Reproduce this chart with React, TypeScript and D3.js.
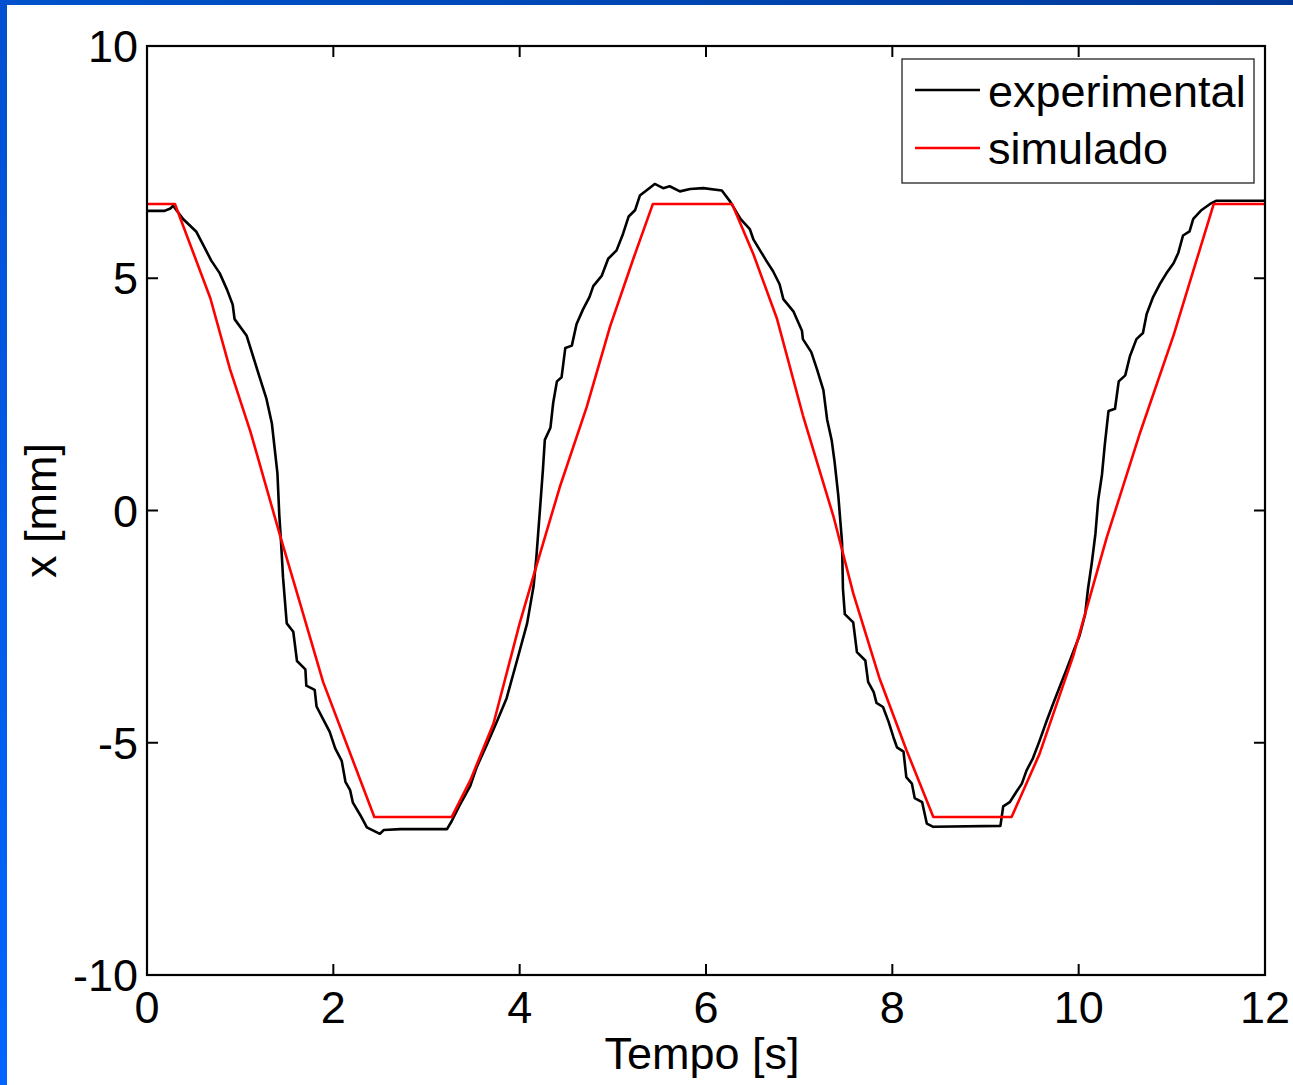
import React from "react";
import * as d3 from "d3";

const xTicks = [0, 2, 4, 6, 8, 10, 12];
const yTicks = [-10, -5, 0, 5, 10];
const yTickLabels = ["-10", "-5", "0", "5", "10"];
const xLabel = "Tempo [s]";
const yLabel = "x [mm]";
const seriesNames = ["experimental", "simulado"];
const seriesColors = ["#000000", "#ff0000"];

// experimental: [time (s), x (mm)]
const experimental: [number, number][] = [
  [0.0, 6.45], [0.19, 6.45], [0.25, 6.5], [0.28, 6.56], [0.39, 6.27], [0.53, 6.0], [0.6, 5.73],
  [0.69, 5.38], [0.78, 5.11], [0.86, 4.75], [0.92, 4.43], [0.94, 4.12], [1.07, 3.76], [1.14, 3.31],
  [1.21, 2.86], [1.28, 2.42], [1.34, 1.88], [1.37, 1.34], [1.4, 0.8], [1.42, -0.1], [1.44, -0.72],
  [1.46, -1.44], [1.5, -2.43], [1.57, -2.61], [1.61, -3.24], [1.7, -3.42], [1.71, -3.77], [1.8, -3.86],
  [1.82, -4.22], [1.89, -4.49], [1.96, -4.76], [2.02, -5.12], [2.09, -5.39], [2.13, -5.84], [2.18, -6.02],
  [2.21, -6.29], [2.29, -6.56], [2.36, -6.82], [2.5, -6.96], [2.54, -6.88], [2.72, -6.86], [3.07, -6.86],
  [3.22, -6.86], [3.27, -6.69], [3.36, -6.33], [3.47, -5.93], [3.54, -5.52], [3.65, -5.03], [3.75, -4.57],
  [3.86, -4.04], [3.97, -3.24], [4.08, -2.43], [4.15, -1.62], [4.18, -0.99], [4.22, 0.08], [4.25, 0.89],
  [4.27, 1.52], [4.33, 1.78], [4.36, 2.32], [4.4, 2.78], [4.45, 2.87], [4.49, 3.5], [4.56, 3.55],
  [4.61, 4.01], [4.68, 4.33], [4.75, 4.6], [4.79, 4.83], [4.88, 5.05], [4.95, 5.42], [5.04, 5.6],
  [5.11, 5.96], [5.17, 6.33], [5.24, 6.47], [5.29, 6.78], [5.36, 6.89], [5.45, 7.03], [5.54, 6.94],
  [5.61, 6.98], [5.72, 6.87], [5.83, 6.92], [5.97, 6.94], [6.17, 6.89], [6.26, 6.65], [6.37, 6.28],
  [6.47, 6.06], [6.51, 5.83], [6.58, 5.6], [6.65, 5.37], [6.72, 5.15], [6.79, 4.87], [6.83, 4.55],
  [6.94, 4.28], [7.03, 3.87], [7.04, 3.69], [7.13, 3.41], [7.19, 3.05], [7.26, 2.59], [7.3, 1.96],
  [7.35, 1.5], [7.38, 1.05], [7.42, 0.32], [7.46, -0.68], [7.47, -1.69], [7.49, -2.23], [7.58, -2.41],
  [7.62, -3.05], [7.71, -3.23], [7.74, -3.69], [7.8, -3.91], [7.83, -4.14], [7.9, -4.23], [7.96, -4.55],
  [8.01, -4.87], [8.05, -5.1], [8.12, -5.19], [8.15, -5.74], [8.21, -5.88], [8.24, -6.19], [8.32, -6.28],
  [8.37, -6.74], [8.44, -6.81], [9.16, -6.79], [9.19, -6.37], [9.26, -6.28], [9.33, -6.06], [9.39, -5.88],
  [9.44, -5.6], [9.51, -5.33], [9.58, -4.96], [9.66, -4.51], [9.73, -4.14], [9.8, -3.78], [9.87, -3.42],
  [9.94, -3.05], [10.01, -2.69], [10.07, -2.23], [10.1, -1.69], [10.14, -1.14], [10.18, -0.5], [10.21, 0.23],
  [10.25, 0.77], [10.28, 1.41], [10.32, 2.14], [10.39, 2.19], [10.43, 2.78], [10.5, 2.91], [10.55, 3.32],
  [10.62, 3.69], [10.69, 3.82], [10.73, 4.23], [10.8, 4.6], [10.87, 4.87], [10.94, 5.1], [11.02, 5.33],
  [11.07, 5.55], [11.12, 5.92], [11.19, 6.01], [11.23, 6.28], [11.32, 6.47], [11.41, 6.6], [11.48, 6.67],
  [12.0, 6.67],
];

// simulado: [time (s), x (mm)]
const simulado: [number, number][] = [
  [0.0, 6.6], [0.3, 6.6], [0.68, 4.57], [0.89, 3.05], [1.11, 1.7], [1.43, -0.55], [1.64, -1.98],
  [1.89, -3.69], [2.44, -6.6], [3.27, -6.6], [3.47, -5.81], [3.72, -4.58], [4.0, -2.43], [4.18, -1.19],
  [4.43, 0.5], [4.72, 2.23], [4.97, 3.96], [5.22, 5.42], [5.43, 6.6], [6.28, 6.6], [6.51, 5.51],
  [6.76, 4.14], [7.04, 2.05], [7.37, -0.14], [7.58, -1.78], [7.86, -3.6], [8.15, -5.15], [8.44, -6.6],
  [9.28, -6.6], [9.58, -5.24], [9.94, -3.14], [10.3, -0.59], [10.66, 1.68], [11.02, 3.78], [11.27, 5.42],
  [11.45, 6.6], [12.0, 6.6],
];

const W = 1293;
const H = 1085;
const L = 147, R = 1265, T = 46, B = 975;
const FONT = "'Liberation Sans', Arial, Helvetica, sans-serif";
const FS = 45;
const TICK = 11;

export default function App() {
  const x = d3.scaleLinear().domain([0, 12]).range([L, R]);
  const y = d3.scaleLinear().domain([-10, 10]).range([B, T]);
  const line = d3
    .line<[number, number]>()
    .x((d) => x(d[0]))
    .y((d) => y(d[1]))
    .curve(d3.curveLinear);
  const series = [experimental, simulado];

  return (
    <svg
      width={W}
      height={H}
      style={{ position: "absolute", left: 0, top: 0, display: "block" }}
      fontFamily={FONT}
    >
      <defs>
        <linearGradient id="topbar" x1="0" x2="1" y1="0" y2="0">
          <stop offset="0" stopColor="#0052cc" />
          <stop offset="1" stopColor="#003a99" />
        </linearGradient>
        <linearGradient id="leftbar" x1="0" x2="0" y1="0" y2="1">
          <stop offset="0" stopColor="#0050d0" />
          <stop offset="1" stopColor="#0066ff" />
        </linearGradient>
        <clipPath id="plotclip">
          <rect x={L} y={T} width={R - L} height={B - T} />
        </clipPath>
      </defs>
      <rect x={0} y={0} width={W} height={H} fill="#ffffff" />
      <rect x={0} y={0} width={W} height={5} fill="url(#topbar)" />
      <rect x={0} y={0} width={7} height={H} fill="url(#leftbar)" />

      {/* data lines */}
      <g clipPath="url(#plotclip)">
        {series.map((s, i) => (
          <path
            key={i}
            d={line(s) || ""}
            fill="none"
            stroke={seriesColors[i]}
            strokeWidth={2.6}
            strokeLinejoin="round"
          />
        ))}
      </g>

      {/* ticks */}
      <g stroke="#000" strokeWidth={2}>
        {xTicks.map((t) => (
          <g key={"xt" + t}>
            <line x1={x(t)} x2={x(t)} y1={B} y2={B - TICK} />
            <line x1={x(t)} x2={x(t)} y1={T} y2={T + TICK} />
          </g>
        ))}
        {yTicks.map((t) => (
          <g key={"yt" + t}>
            <line x1={L} x2={L + TICK} y1={y(t)} y2={y(t)} />
            <line x1={R} x2={R - TICK} y1={y(t)} y2={y(t)} />
          </g>
        ))}
      </g>

      {/* axes box */}
      <rect x={L} y={T} width={R - L} height={B - T} fill="none" stroke="#000" strokeWidth={2.2} />

      {/* tick labels */}
      <g fontSize={FS} fill="#000">
        {xTicks.map((t) => (
          <text key={"xl" + t} x={x(t)} y={1023} textAnchor="middle">
            {String(t)}
          </text>
        ))}
        {yTicks.map((t, i) => (
          <text key={"yl" + t} x={138} y={y(t) + 16} textAnchor="end">
            {yTickLabels[i]}
          </text>
        ))}
      </g>

      {/* axis labels */}
      <text x={(L + R) / 2 - 4} y={1069} textAnchor="middle" fontSize={FS} fill="#000">
        {xLabel}
      </text>
      <text
        transform={`translate(56, ${(T + B) / 2}) rotate(-90)`}
        textAnchor="middle"
        fontSize={FS}
        fill="#000"
      >
        {yLabel}
      </text>

      {/* legend */}
      <rect x={902} y={59} width={352} height={124} fill="#fff" stroke="#222" strokeWidth={1.3} />
      {seriesNames.map((n, i) => (
        <g key={n}>
          <line x1={915} x2={980} y1={90 + i * 58} y2={90 + i * 58} stroke={seriesColors[i]} strokeWidth={2.6} />
          <text x={988} y={107 + i * 57} fontSize={FS} fill="#000">
            {n}
          </text>
        </g>
      ))}
    </svg>
  );
}
